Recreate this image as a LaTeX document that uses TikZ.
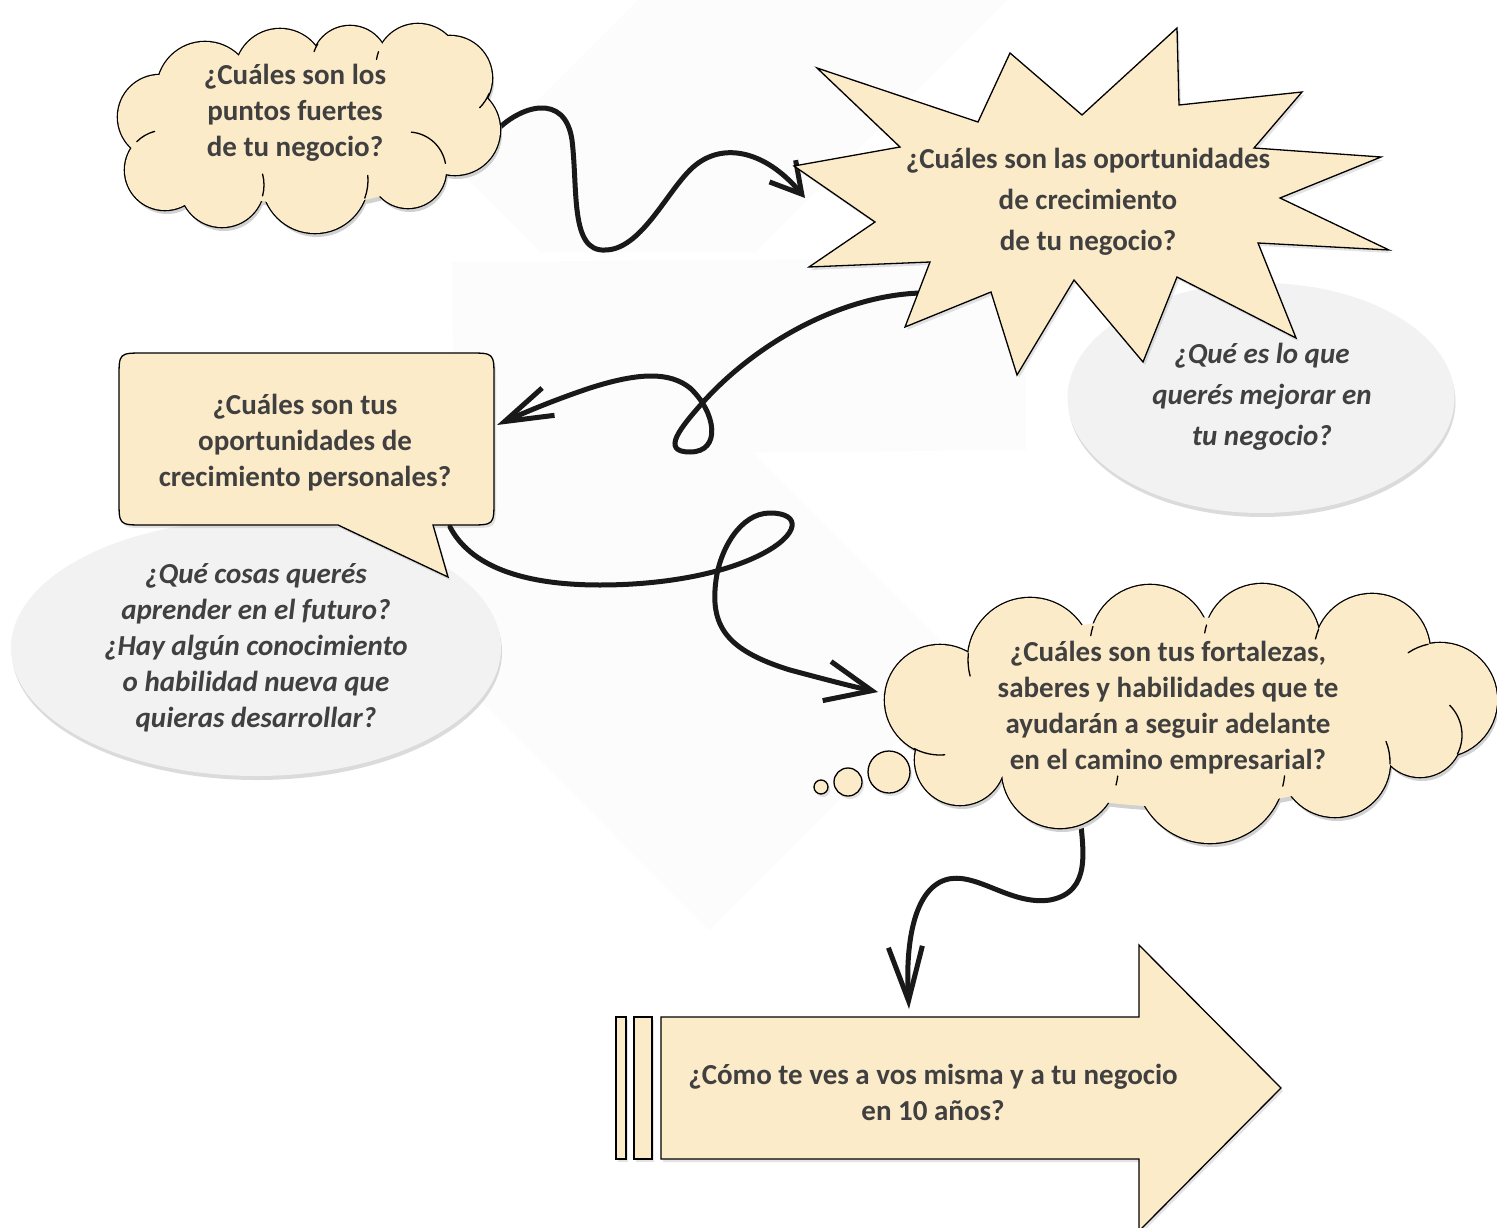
\documentclass[tikz,border=0pt]{standalone}
\usepackage{fontspec}
\setmainfont{Carlito}
\usetikzlibrary{shapes.geometric,arrows.meta,shadows}
\definecolor{peach}{RGB}{252,235,200}
\definecolor{txt}{RGB}{64,64,64}
\definecolor{pale}{RGB}{242,242,242}
\definecolor{faint}{RGB}{252,252,252}
\tikzset{
 shape line/.style={draw=black, line width=1.3pt, line join=miter},
 peachshape/.style={shape line, fill=peach, drop shadow={opacity=0.22, shadow xshift=2pt, shadow yshift=-3pt}},
 grayell/.style={ellipse, fill=pale, draw=none, inner sep=0pt, drop shadow={opacity=0.28, shadow xshift=1pt, shadow yshift=-4pt}},
 inner arc/.style={draw=black, line width=1.3pt, line cap=round},
 squig/.style={line width=5pt, line cap=round, line join=round, draw=black!90},
 qbold/.style={align=center, text=txt, inner sep=0pt, font=\fontsize{29}{36}\selectfont\bfseries},
 qboldwide/.style={align=center, text=txt, inner sep=0pt, font=\fontsize{29}{41}\selectfont\bfseries},
 qital/.style={align=center, text=txt, inner sep=0pt, font=\fontsize{29}{36}\selectfont\bfseries\itshape},
 qitalwide/.style={align=center, text=txt, inner sep=0pt, font=\fontsize{29}{41}\selectfont\bfseries\itshape},
}
\begin{document}
\begin{tikzpicture}[x=1pt,y=-1pt]
\useasboundingbox (0,0) rectangle (1497,1228);
\fill[white] (0,0) rectangle (1497,1228);
\clip (0,0) rectangle (1497,1228);

% faint backgrounds
\fill[faint] (463,175) -- (638,0) -- (1007,0) -- (755,252) -- (540,252) -- cycle;
\fill[faint] (452,262) -- (1024,258) -- (1026,450) -- (454,455) -- cycle;
\fill[faint] (600,300) -- (970,670) -- (709,930) -- (340,560) -- cycle;

% gray ellipse behind the star
\node[grayell, minimum width=387pt, minimum height=230pt] (e1) at (1261,398) {};

% named coordinates for connector ends
\coordinate (c1E) at (494,133);
\coordinate (tipA) at (805,198);
\coordinate (starSW) at (935,293);
\coordinate (callE) at (497,425);
\coordinate (callS) at (450,527);
\coordinate (c2W) at (878,692);
\coordinate (c2S) at (1080,815);
\coordinate (arrN) at (909,1009);

% squiggle 1: cloud -> star
\draw[squig, -{Straight Barb[length=30pt,width=34pt]}] (c1E)
  .. controls (520,105) and (565,92) .. (572,140)
  .. controls (578,190) and (570,252) .. (605,250)
  .. controls (640,250) and (665,195) .. (690,170)
  .. controls (720,140) and (765,150) .. (tipA);

% squiggle 2: star -> callout
\draw[squig, -{Straight Barb[length=48pt,width=30pt]}] (starSW)
  .. controls (850,290) and (760,340) .. (705,400)
  .. controls (680,428) and (660,452) .. (690,452)
  .. controls (722,452) and (716,412) .. (690,388)
  .. controls (670,372) and (640,372) .. (590,388)
  .. controls (560,398) and (530,410) .. (callE);

% starburst
\draw[peachshape] (817,68) -- (978,122) -- (1010,53) -- (1082,115) -- (1177,28) -- (1179,105)
  -- (1302,92) -- (1254,148) -- (1381,157) -- (1280,198) -- (1389,250) -- (1258,243)
  -- (1296,338) -- (1177,277) -- (1143,362) -- (1074,280) -- (1017,375) -- (991,292)
  -- (905,327) -- (930,262) -- (809,267) -- (875,222) -- (794,166) -- (900,147) -- cycle;

% cloud 1 (union of puffs)
\coordinate (c1) at (309,131);
\def\puffsA{160/117/42,165/170/40,222/185/42,315/180/53,408/170/38,455/130/45,450/78/42,418/66/42,350/64/38,280/74/45,205/90/48}
\foreach \cx/\cy/\r in \puffsA {\fill[black!18] (\cx+2,\cy+4) circle[radius=\r];}
\fill[black!18] (312,134) ellipse[x radius=150,y radius=75];
\foreach \cx/\cy/\r in \puffsA {\draw[line width=2.6pt] (\cx,\cy) circle[radius=\r];}
\foreach \cx/\cy/\r in \puffsA {\fill[peach] (\cx,\cy) circle[radius=\r];}
\fill[peach] (310,130) ellipse[x radius=150,y radius=75];
\foreach \cx/\cy/\r/\a/\b in {165/170/40/225/255,350/64/38/212/199,418/66/42/200/189,408/170/38/275/350,450/78/42/45/22,222/185/42/-15/15,315/180/53/20/-5}
  {\draw[inner arc] ([shift={(\a:\r)}]\cx,\cy) arc[start angle=\a,end angle=\b,radius=\r];}

% gray ellipse behind callout
\node[grayell, minimum width=490pt, minimum height=256pt] (e2) at (256,648) {};

% callout box
\draw[peachshape] (338,525) -- (144,525) .. controls (119,525) .. (119,500) -- (119,378)
  .. controls (119,353) .. (144,353) -- (469,353) .. controls (494,353) .. (494,378)
  -- (494,500) .. controls (494,525) .. (469,525) -- (433,525) -- (448,577) -- cycle;

% squiggle 3: callout -> cloud 2
\draw[squig, -{Straight Barb[length=46pt,width=40pt]}] (callS)
  .. controls (470,565) and (520,585) .. (600,585)
  .. controls (660,585) and (720,575) .. (760,555)
  .. controls (800,535) and (802,513) .. (770,513)
  .. controls (740,513) and (720,550) .. (716,580)
  .. controls (710,625) and (725,650) .. (790,670)
  .. controls (820,678) and (850,686) .. (c2W);

% squiggle 4: cloud 2 -> arrow
\draw[squig, -{Straight Barb[length=54pt,width=34pt]}] (c2S)
  .. controls (1083,850) and (1092,892) .. (1050,900)
  .. controls (1010,906) and (975,870) .. (945,880)
  .. controls (915,890) and (905,940) .. (arrN);

% cloud 2 (union of puffs)
\coordinate (c2) at (1190,712);
\def\puffsB{940/700/55,960/760/45,1060/770/58,1210/768/75,1335/762/55,1420/735/42,1440/700/57,1372/652/58,1262/642/58,1150/645/60,1030/660/62}
\foreach \cx/\cy/\r in \puffsB {\fill[black!18] (\cx+2,\cy+4) circle[radius=\r];}
\fill[black!18] (1182,716) ellipse[x radius=240,y radius=95];
\foreach \cx/\cy/\r in \puffsB {\draw[line width=2.6pt] (\cx,\cy) circle[radius=\r];}
\foreach \cx/\cy/\r in \puffsB {\fill[peach] (\cx,\cy) circle[radius=\r];}
\fill[peach] (1180,712) ellipse[x radius=240,y radius=95];
\foreach \cx/\cy/\r/\a/\b in {1150/645/60/198/189,1262/642/58/197/189,1372/652/58/203/193,1440/700/57/258/236,1420/735/42/27/-45,1335/762/55/2/-22,1210/768/75/14/6,1060/770/58/15/6,940/700/55/118/85,1030/660/62/186/165}
  {\draw[inner arc] ([shift={(\a:\r)}]\cx,\cy) arc[start angle=\a,end angle=\b,radius=\r];}

% thought bubbles
\node[circle, peachshape, minimum size=14pt, inner sep=0pt] (b1) at (821,787) {};
\node[circle, peachshape, minimum size=28pt, inner sep=0pt] (b2) at (848,782) {};
\node[circle, peachshape, minimum size=42pt, inner sep=0pt] (b3) at (889,772) {};

% big arrow with bars
\draw[peachshape] (616,1017) rectangle (626,1159);
\draw[peachshape] (634,1017) rectangle (652,1159);
\draw[peachshape] (661,1017) -- (1139,1017) -- (1139,945) -- (1281,1088) -- (1139,1231)
  -- (1139,1159) -- (661,1159) -- cycle;

% texts
\node[qbold] (t1) at (295,113) {¿Cuáles son los\\puntos fuertes\\de tu negocio?};
\node[qboldwide] (star) at (1088,202) {¿Cuáles son las oportunidades\\de crecimiento\\de tu negocio?};
\node[qitalwide] (t3) at (1262,397) {¿Qué es lo que\\querés mejorar en\\tu negocio?};
\node[qbold] (call) at (305,443) {¿Cuáles son tus\\oportunidades de\\crecimiento personales?};
\node[qital] (t5) at (256,648) {¿Qué cosas querés\\aprender en el futuro?\\¿Hay algún conocimiento\\o habilidad nueva que\\quieras desarrollar?};
\node[qbold] (t6) at (1168,708) {¿Cuáles son tus fortalezas,\\saberes y habilidades que te\\ayudarán a seguir adelante\\en el camino empresarial?};
\node[qbold] (arr) at (933,1092) {¿Cómo te ves a vos misma y a tu negocio\\en 10 años?};
\end{tikzpicture}
\end{document}
